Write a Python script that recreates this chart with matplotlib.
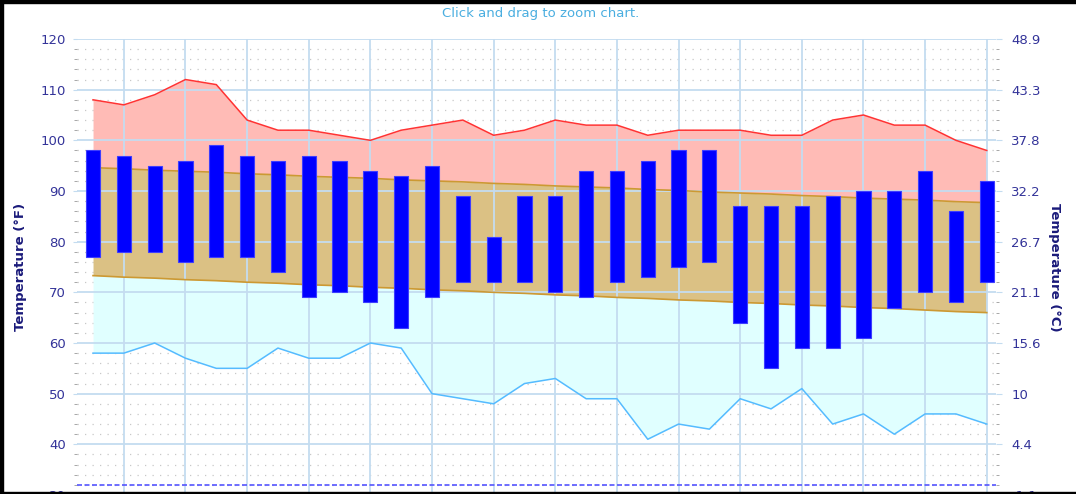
#!/usr/bin/env python3
# -*- coding: utf-8 -*-

import numpy as np
import matplotlib
matplotlib.use("Agg")
import matplotlib.pyplot as plt
from matplotlib.patches import Rectangle
from matplotlib.ticker import MultipleLocator, FixedLocator

# daily observed high / low (F)
HIGHS = [98, 97, 95, 96, 99, 97, 96, 97, 96, 94, 93, 95, 89, 81, 89,
         89, 94, 94, 96, 98, 98, 87, 87, 87, 89, 90, 90, 94, 86, 92]
LOWS = [77, 78, 78, 76, 77, 77, 74, 69, 70, 68, 63, 69, 72, 72, 72,
        70, 69, 72, 73, 75, 76, 64, 55, 59, 59, 61, 67, 70, 68, 72]

# records
REC_HIGH = [108, 107, 109, 112, 111, 104, 102, 102, 101, 100, 102, 103, 104, 101, 102,
            104, 103, 103, 101, 102, 102, 102, 101, 101, 104, 105, 103, 103, 100, 98]
REC_LOW = [58, 58, 60, 57, 55, 55, 59, 57, 57, 60, 59, 50, 49, 48, 52,
           53, 49, 49, 41, 44, 43, 49, 47, 51, 44, 46, 42, 46, 46, 44]

# normals
NORM_HIGH = [94.6, 94.4, 94.1, 93.9, 93.7, 93.4, 93.2, 92.9, 92.7, 92.5,
             92.2, 92.0, 91.8, 91.5, 91.3, 91.0, 90.8, 90.6, 90.3, 90.1,
             89.8, 89.6, 89.4, 89.1, 88.9, 88.6, 88.4, 88.2, 87.9, 87.7]
NORM_LOW = [73.3, 73.0, 72.8, 72.5, 72.3, 72.0, 71.8, 71.5, 71.3, 71.0,
            70.8, 70.5, 70.3, 70.0, 69.8, 69.5, 69.3, 69.0, 68.8, 68.5,
            68.3, 68.0, 67.8, 67.5, 67.3, 67.0, 66.8, 66.5, 66.2, 66.0]

FREEZING = 32
YTICKS = [30, 40, 50, 60, 70, 80, 90, 100, 110, 120]

TICKCOL = "#333399"
LBLCOL = "#1a1a7a"
GRIDCOL = "#c4dcf0"
TICKSIZE = 9.5


def c_label(f):
    c = round((f - 32) * 5 / 9, 1)
    s = f"{c:.1f}"
    return s[:-2] if s.endswith(".0") else s


def main():
    W, H = 1076, 494
    fig = plt.figure(figsize=(W / 100, H / 100), dpi=100)
    fig.patch.set_facecolor("white")

    ax = fig.add_axes([77 / W, -1 / H, 919 / W, 456 / H])
    x = np.arange(len(HIGHS))
    hi = np.array(HIGHS)
    lo = np.array(LOWS)

    # minor dotted lines, below the fills
    for v in np.arange(32, 120, 2):
        if v % 10:
            ax.axhline(v, color="#c8c8c8", lw=0.9, ls=(0, (1, 5)), zorder=0.5)

    ax.fill_between(x, REC_HIGH, NORM_HIGH, color="#ffbbb6", lw=0, zorder=1)
    ax.fill_between(x, NORM_HIGH, NORM_LOW, color="#dbc184", lw=0, zorder=1)
    ax.fill_between(x, NORM_LOW, REC_LOW, color="#e0ffff", lw=0, zorder=1)
    ax.plot(x, NORM_HIGH, color="#cc9933", lw=1.2, zorder=2)
    ax.plot(x, NORM_LOW, color="#cc9933", lw=1.2, zorder=2)
    ax.plot(x, REC_HIGH, color="#ff3333", lw=1.1, zorder=2)
    ax.plot(x, REC_LOW, color="#55bbff", lw=1.1, zorder=2)

    ax.bar(x, hi - lo, bottom=lo, width=0.46, color="#0000ff",
           edgecolor="#3d3dff", linewidth=0.8, zorder=3)

    ax.axhline(FREEZING, color="#5555ff", lw=1.2, ls=(0, (3, 1.5)), zorder=2)

    ax.set_xlim(-0.52, 29.3)
    ax.set_ylim(30, 120)

    ax.set_xticks(x[1::2])
    ax.set_xticklabels([])
    ax.yaxis.set_major_locator(FixedLocator(YTICKS))
    ax.yaxis.set_minor_locator(MultipleLocator(2))
    ax.set_yticklabels([str(v) for v in YTICKS], color=TICKCOL, size=TICKSIZE)

    ax.grid(True, which="major", color=GRIDCOL, lw=1.3)
    ax.tick_params(axis="y", which="major", length=3, color=GRIDCOL, pad=5)
    ax.tick_params(axis="y", which="minor", length=2, color="#999999")
    ax.tick_params(axis="x", length=0)
    for s in ax.spines.values():
        s.set_visible(False)

    ax2 = ax.twinx()
    ax2.set_ylim(30, 120)
    ax2.yaxis.set_major_locator(FixedLocator(YTICKS))
    ax2.yaxis.set_minor_locator(MultipleLocator(2))
    ax2.set_yticklabels([c_label(v) for v in YTICKS], color=TICKCOL, size=TICKSIZE)
    ax2.tick_params(axis="y", which="major", length=4, color=GRIDCOL, pad=7)
    ax2.tick_params(axis="y", which="minor", length=2, color="#999999")
    for s in ax2.spines.values():
        s.set_visible(False)

    ax.set_ylabel("Temperature (°F)", color=LBLCOL, size=9.5, weight="bold")
    ax.yaxis.set_label_coords(-50 / 919, 0.5)
    ax2.set_ylabel("Temperature (°C)", color=LBLCOL, size=9.5, weight="bold",
                   rotation=-90, va="center")
    ax2.yaxis.set_label_coords(1 + 59 / 919, 0.5)

    fig.text(541 / W, 1 - 13 / H, "Click and drag to zoom chart.",
             color="#4aaee0", size=9.5, ha="center", va="center")

    # screenshot border
    for (bx, by, bw, bh) in [(0, H - 3, W, 3), (0, 0, 2.5, H), (0, 0, W, 2.5)]:
        fig.patches.append(Rectangle((bx / W, by / H), bw / W, bh / H,
                                     transform=fig.transFigure, color="black",
                                     zorder=10))

    fig.savefig("out.png", dpi=100)
    plt.close(fig)


if __name__ == "__main__":
    main()
